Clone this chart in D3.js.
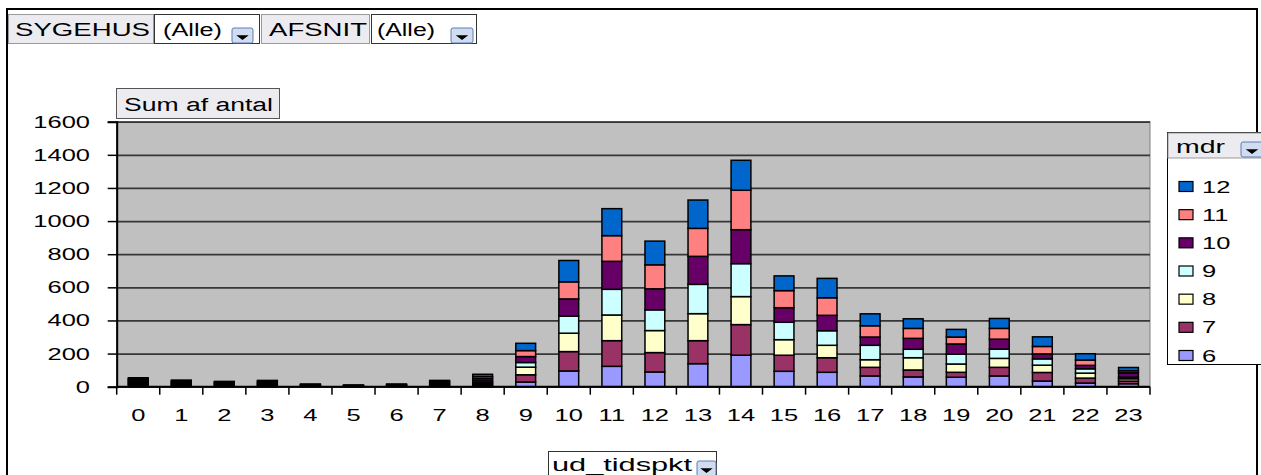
<!DOCTYPE html>
<html>
<head>
<meta charset="utf-8">
<script src="https://cdn.jsdelivr.net/npm/d3@7/dist/d3.min.js"></script>
<style>
html,body{margin:0;padding:0;background:#fff;}
svg{display:block;}
text{font-family:"Liberation Sans",Arial,sans-serif;fill:#000;}
</style>
</head>
<body>
<svg id="chart" width="1261" height="475"></svg>
<script>
// ---- data ----
const hours = ["0","1","2","3","4","5","6","7","8","9","10","11","12","13","14","15","16","17","18","19","20","21","22","23"];
const months = ["6","7","8","9","10","11","12"];
const m6  = [10,6,5,6,3,2,3,6,8,28,95,123,89,139,190,93,87,65,59,57,65,34,22,18];
const m7  = [8,6,5,6,2,1,2,6,9,44,117,155,117,139,185,97,88,52,42,30,52,52,30,16];
const m8  = [7,5,4,5,2,1,2,5,8,46,111,155,133,163,169,94,75,46,74,50,54,44,30,14];
const m9  = [8,6,5,5,2,2,2,5,10,28,103,155,125,177,199,105,88,87,51,59,56,38,26,10];
const m10 = [7,5,4,5,2,1,2,6,14,36,104,169,127,169,205,88,93,50,66,62,60,30,21,26];
const m11 = [6,6,5,6,3,2,3,5,12,36,103,155,145,169,238,103,106,68,60,42,65,45,32,12];
const m12 = [8,6,4,5,2,1,2,5,14,44,129,163,143,171,181,89,117,72,58,46,60,58,38,20];
const yTicks = [0,200,400,600,800,1000,1200,1400,1600];
const colors = ["#9999ff","#993366","#ffffcc","#ccffff","#660066","#ff8080","#0066cc"];

const seriesValues = [m6,m7,m8,m9,m10,m11,m12];
const table = hours.map((h,i)=>{const o={hour:h}; months.forEach((m,j)=>o[m]=seriesValues[j][i]); return o;});

const svg = d3.select("#chart");

function label(parent, x, y, str, anchor, size, sx){
  return parent.append("text")
    .attr("transform", `translate(${x},${y}) scale(${sx||1.5},1)`)
    .attr("text-anchor", anchor || "start")
    .attr("font-size", size || 17)
    .text(str);
}
function fitted(parent, x, y, str, len, size){
  return parent.append("text")
    .attr("x", x).attr("y", y)
    .attr("font-size", size || 18)
    .attr("textLength", len).attr("lengthAdjust","spacingAndGlyphs")
    .text(str);
}
function dropdown(x, y, w, h){
  const g = svg.append("g");
  g.append("rect").attr("x",x).attr("y",y).attr("width",w).attr("height",h)
    .attr("rx",2).attr("fill","#d0dcf0").attr("stroke","#5f7db3").attr("stroke-width",1);
  g.append("path").attr("d",`M${x+w/2-4},${y+h-7}h8l-4,3z`).attr("fill","#000").attr("stroke","#000").attr("stroke-width",1.5);
}

// outer frame
svg.append("rect").attr("x",7).attr("y",9).attr("width",1250).attr("height",480)
  .attr("fill","#fff").attr("stroke","#000").attr("stroke-width",2);

// header page fields
function fieldBox(x,y,w,h,fill,stroke){
  svg.append("rect").attr("x",x).attr("y",y).attr("width",w).attr("height",h)
    .attr("fill",fill).attr("stroke",stroke).attr("stroke-width",1);
}
fieldBox(8.5,14.5,145,29,"#ececf0","#9a9a9a");
fitted(svg,15,36,"SYGEHUS",135,18);
fieldBox(154.5,14.5,105,29,"#ffffff","#333");
fitted(svg,163,36,"(Alle)",59,18);
dropdown(232,28,21,15);
fieldBox(261.5,14.5,108,29,"#ececf0","#9a9a9a");
fitted(svg,269,36,"AFSNIT",98,18);
fieldBox(371.5,14.5,105,29,"#ffffff","#333");
fitted(svg,377,36,"(Alle)",58,18);
dropdown(451,28,22,15);

// plot area
const x0 = 116.7, x1 = 1150, yTop = 121.7, yBot = 386.7;
const x = d3.scaleBand().domain(hours).range([x0,x1]).paddingInner(0).paddingOuter(0);
const y = d3.scaleLinear().domain([0,1600]).range([yBot,yTop]);

svg.append("rect").attr("x",x0).attr("y",yTop).attr("width",x1-x0).attr("height",yBot-yTop)
  .attr("fill","#c0c0c0").attr("stroke","#808080").attr("stroke-width",1);

// gridlines
svg.append("g").attr("transform",`translate(${x0},0)`)
  .call(d3.axisLeft(y).tickValues(yTicks).tickSize(-(x1-x0)).tickFormat(""))
  .call(g=>g.select(".domain").remove())
  .call(g=>g.selectAll("line").attr("stroke","#363636").attr("stroke-width",1.7));

// "Sum af antal" button
fieldBox(116.5,88.5,163,30,"#ececf0","#555");
fitted(svg,124,111,"Sum af antal",149,18);

// stacked bars
const stack = d3.stack().keys(months);
const stacked = stack(table);
const bw = x.bandwidth()*0.46;
const off = (x.bandwidth()-bw)/2;
svg.append("g").selectAll("g").data(stacked).join("g")
  .attr("fill",(d,i)=>colors[i])
  .selectAll("rect").data(d=>d).join("rect")
  .attr("x",d=>x(d.data.hour)+off)
  .attr("width",bw)
  .attr("y",d=>y(d[1]))
  .attr("height",d=>y(d[0])-y(d[1]))
  .attr("stroke","#000").attr("stroke-width",1.5);

// y axis
const ya = svg.append("g").attr("transform",`translate(${x0},0)`)
  .call(d3.axisLeft(y).tickValues(yTicks).tickSize(9).tickFormat(""));
ya.select(".domain").attr("stroke","#000").attr("stroke-width",2);
ya.selectAll("line").attr("stroke","#000").attr("stroke-width",1.5);
yTicks.forEach(v=>label(svg,90,y(v)+6,String(v),"end",17,1.5));

// x axis
svg.append("line").attr("x1",x0).attr("x2",x1).attr("y1",yBot).attr("y2",yBot)
  .attr("stroke","#000").attr("stroke-width",2);
const bounds = hours.map(h=>x(h)).concat([x(hours[hours.length-1])+x.bandwidth()]);
svg.append("g").selectAll("line").data(bounds).join("line")
  .attr("x1",d=>d).attr("x2",d=>d).attr("y1",yBot).attr("y2",yBot+8)
  .attr("stroke","#000").attr("stroke-width",1.5);
hours.forEach(h=>label(svg,x(h)+x.bandwidth()/2,421,h,"middle",17,1.5));

// x axis field button
fieldBox(548.5,451.5,168,30,"#ffffff","#333");
fitted(svg,552,471,"ud_tidspkt",140,18);
dropdown(697,461,19,15);

// legend
const lg = svg.append("g");
lg.append("rect").attr("x",1167.5).attr("y",132.5).attr("width",110).attr("height",232)
  .attr("fill","#fff").attr("stroke","#000").attr("stroke-width",1);
lg.append("rect").attr("x",1168).attr("y",133).attr("width",100).attr("height",25)
  .attr("fill","#ececf0").attr("stroke","#9a9a9a").attr("stroke-width",1);
fitted(lg,1176,153,"mdr",49,18);
dropdown(1241,142,22,15);
const legendOrder = months.slice().reverse();
const ly = d3.scalePoint().domain(legendOrder).range([186.5,355.5]);
legendOrder.forEach(m=>{
  const ci = months.indexOf(m);
  lg.append("rect").attr("x",1179).attr("y",ly(m)-5).attr("width",14).attr("height",10)
    .attr("fill",colors[ci]).attr("stroke","#000").attr("stroke-width",1.2);
  label(lg,1202,ly(m)+6,m,"start",17,1.5);
});
</script>
</body>
</html>
